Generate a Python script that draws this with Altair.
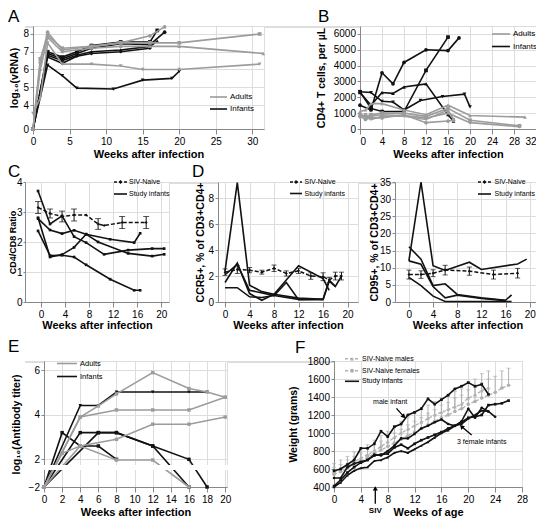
import altair as alt
import pandas as pd

FONT = "Liberation Sans"
GRAY = "#9c9c9c"
LIGHT = "#b0b0b0"
BLACK = "#121212"

# ===== Panel A: plasma viral RNA (weeks after infection, log10 copies) =====
A_ADULT_1 = ([0, 1, 2, 4, 8, 12, 16, 20, 31], [0, 6.6, 7.9, 7.2, 7.3, 7.5, 7.5, 7.5, 8.0])
A_ADULT_2 = ([0, 1, 2, 4, 8, 12, 16, 20, 31.5], [0, 6.0, 7.8, 7.0, 7.2, 7.3, 7.3, 7.3, 6.9])
A_ADULT_3 = ([0, 1, 2, 4, 8, 12, 15, 20, 31], [2.6, 4.4, 7.5, 6.3, 6.3, 6.2, 6.0, 6.0, 6.3])
A_ADULT_4 = ([0, 1, 2, 4, 8, 12, 16, 18], [0, 6.4, 8.1, 7.1, 7.3, 7.5, 7.9, 8.4])
A_INFANT_1 = ([0, 2, 4, 6, 8, 12, 16, 17], [0, 7.0, 6.7, 7.0, 7.35, 7.55, 7.55, 8.2])
A_INFANT_2 = ([0, 2, 4, 6, 8, 12, 16, 18], [0, 6.9, 6.6, 6.9, 7.2, 7.45, 7.4, 8.1])
A_INFANT_3 = ([0, 2, 4, 6, 8, 12, 16, 17], [0, 6.8, 6.5, 6.8, 7.0, 7.1, 7.3, 7.6])
A_INFANT_4 = ([0, 2, 4, 6, 8, 12, 16], [0, 6.7, 6.35, 6.75, 6.9, 7.0, 7.2])
A_INFANT_5 = ([0, 2, 4, 6, 11, 15, 19, 20], [0, 6.25, 5.65, 4.95, 4.9, 5.4, 5.5, 5.9])
A_X_TICKS = [0, 5, 10, 15, 20, 25, 30]
A_Y_TICKS = [0, 4, 5, 6, 7, 8]

# ===== Panel B: CD4+ T cells per uL =====
B_ADULT_1 = ([0, 1, 2, 4, 8, 12, 16, 20, 30], [1100, 1200, 1600, 1600, 1200, 900, 1500, 850, 750])
B_ADULT_2 = ([0, 1, 2, 4, 8, 12, 16, 20, 29], [900, 800, 900, 1000, 1000, 800, 1300, 550, 200])
B_ADULT_3 = ([0, 1, 2, 4, 8, 12, 16, 17], [800, 600, 700, 700, 900, 400, 500, 550])
B_ADULT_4 = ([0, 1, 2, 4, 8, 12, 16, 20, 29], [1000, 700, 800, 900, 850, 700, 1000, 400, 150])
B_ADULT_5 = ([0, 1, 2, 4, 8, 12, 16, 17], [700, 900, 600, 800, 800, 600, 1200, 600])
B_INFANT_1 = ([0, 2, 4, 8, 12, 16], [2350, 1300, 1100, 1100, 3700, 5800])
B_INFANT_2 = ([0, 2, 4, 6, 8, 12, 16, 18], [1500, 1200, 3550, 2850, 4200, 5000, 4950, 5750])
B_INFANT_3 = ([0, 2, 4, 6, 8, 12, 16, 17], [2300, 1500, 2300, 2250, 2650, 2850, 900, 500])
B_INFANT_4 = ([0, 2, 4, 6, 8, 11, 15, 19, 20], [2350, 2300, 1750, 1700, 1200, 1800, 2050, 2200, 1400])
B_X_TICKS = [0, 4, 8, 12, 16, 20, 24, 28, 32]
B_Y_TICKS = [0, 1000, 2000, 3000, 4000, 5000, 6000]

# ===== Panel C: CD4/CD8 ratio =====
C_NAIVE_W = [-0.5, 1.5, 3.5, 5.5, 7.5, 9.5, 10.5, 13.5, 17.5]
C_NAIVE_V = [3.15, 2.95, 2.85, 2.9, 2.9, 2.6, 2.55, 2.65, 2.65]
C_NAIVE_SD = [0.2, 0.15, 0.18, 0.2, 0, 0.18, 0, 0.2, 0.2]
C_INFANT_1 = ([-0.5, 1.5, 3.5, 5.5, 7.5, 10.5, 14.5, 18.5, 20.5], [3.7, 2.6, 2.87, 2.18, 1.98, 1.59, 1.73, 1.78, 1.78])
C_INFANT_2 = ([-0.5, 1.5, 3.5, 5.5, 7.5, 11.5, 15.5, 16.5], [2.78, 2.4, 2.28, 2.39, 2.26, 2.09, 1.98, 2.29])
C_INFANT_3 = ([-0.5, 1.5, 3.5, 5.5, 7.5, 9.5, 14.5, 18.5, 20.5], [2.81, 1.5, 1.58, 1.82, 2.26, 2.0, 1.62, 1.53, 1.59])
C_INFANT_4 = ([-0.5, 1.5, 3.5, 5.5, 7.5, 11.5, 15.5, 16.5], [2.37, 1.55, 1.56, 1.5, 1.24, 0.76, 0.39, 0.39])
C_X_TICKS = [0, 4, 8, 12, 16, 20]
C_Y_TICKS = [0, 1, 2, 3, 4]

# ===== Panel D (left): CCR5+ % =====
D1_NAIVE_W = [0, 2, 4, 6, 8, 10, 12, 14, 16, 17, 18, 19]
D1_NAIVE_V = [2.3, 2.5, 2.45, 2.3, 2.6, 2.2, 2.4, 2.0, 1.95, 1.7, 2.0, 2.0]
D1_NAIVE_SD = [0.25, 0.3, 0.2, 0.15, 0.25, 0.2, 0.2, 0.25, 0.3, 0.2, 0.3, 0.3]
D1_INFANT_1 = ([0, 2, 4, 6, 8, 12, 16], [2.4, 9.2, 1.3, 0.8, 0.6, 0.3, 0.2])
D1_INFANT_2 = ([0, 2, 4, 6, 8, 12, 16, 17], [1.5, 3.0, 0.65, 0.13, 0.6, 2.8, 1.8, 0.9])
D1_INFANT_3 = ([0, 2, 4, 8, 10, 12, 16, 17, 18], [2.1, 2.9, 0.9, 0.5, 1.5, 0.18, 0.2, 1.7, 1.2])
D1_INFANT_4 = ([0, 2, 4, 6, 8, 12, 16, 17, 18, 19], [1.1, 1.1, 0.4, 0.35, 0.5, 0.2, 0.2, 1.6, 1.2, 2.0])
D1_X_TICKS = [0, 4, 8, 12, 16, 20]
D1_Y_TICKS = [0, 2, 4, 6, 8]

# ===== Panel D (right): CD95+ % =====
D2_NAIVE_W = [0, 2, 4, 6, 10, 14, 18]
D2_NAIVE_V = [8.0, 8.0, 8.4, 9.3, 9.0, 8.0, 8.4]
D2_NAIVE_SD = [1.3, 1.1, 1.0, 1.4, 1.2, 1.3, 1.4]
D2_INFANT_1 = ([0, 2, 4, 6, 10, 12, 18, 19.5], [12.0, 35, 10.6, 9.2, 11.6, 9.5, 11.1, 12.5])
D2_INFANT_2 = ([0, 2, 4, 6, 8, 12, 16, 17], [16.1, 12.5, 4.8, 5.3, 2.2, 1.2, 0.5, 2.1])
D2_INFANT_3 = ([0, 2, 4, 6, 8, 12, 16], [12.0, 11.0, 4.5, 1.2, 2.0, 1.0, 0.4])
D2_INFANT_4 = ([0, 2, 4, 6, 10, 17], [7.2, 4.8, 1.7, 0.15, 0.15, 0.15])
D2_X_TICKS = [0, 4, 8, 12, 16, 20]
D2_Y_TICKS = [0, 5, 10, 15, 20, 25, 30, 35]

# ===== Panel E: log10 antibody titer =====
E_ADULT_1 = ([0, 2, 4, 6, 8, 12, 16, 18, 20], [-2, 2.3, 3.9, 4.4, 4.94, 5.9, 5.18, 5.03, 4.79])
E_ADULT_2 = ([0, 4, 8, 12, 16, 20], [-2, 3.9, 4.22, 4.22, 4.22, 4.79])
E_ADULT_3 = ([0, 4, 8, 12, 16, 20], [-2, 2.6, 2.9, 3.58, 3.58, 3.9])
E_ADULT_4 = ([0, 2, 4, 8, 12, 16], [-2, 2.27, 2.6, 1.97, 1.97, -2])
E_INFANT_1 = ([0, 4, 6, 8, 12, 16, 18], [-2, 4.42, 4.42, 5.03, 5.03, 5.03, 5.03])
E_INFANT_2 = ([0, 2, 4, 6, 8], [-2, 3.2, 2.6, 2.6, 2.0])
E_INFANT_3 = ([0, 4, 6, 8, 12, 16, 18], [-2, 3.2, 3.2, 3.2, 2.6, 2.0, -2])
E_INFANT_4 = ([0, 6, 8, 12, 16], [-2, 3.2, 3.2, 2.6, -2])
E_X_TICKS = [0, 2, 4, 6, 8, 10, 12, 14, 16, 18, 20]
E_Y_TICKS = [-2, -1, 2, 3, 4, 5, 6]
E_BREAK = [-0.75, 1.75]

# ===== Panel F: body weight (weeks of age, grams) =====
F_MALE_NAIVE_W = list(range(0, 24))
F_MALE_NAIVE_V = [560, 600, 640, 680, 720, 760, 800, 850, 900, 950, 1000, 1040,
                  1080, 1120, 1160, 1200, 1230, 1260, 1290, 1320, 1390, 1420, 1470, 1500]
F_MALE_NAIVE_SD = [100, 100, 100, 110, 110, 110, 120, 120, 120, 130, 130, 130,
                   140, 140, 150, 150, 160, 160, 170, 170, 180, 180, 190, 190]
F_FEMALE_NAIVE_W = list(range(0, 27))
F_FEMALE_NAIVE_V = [540, 570, 610, 650, 690, 730, 770, 810, 850, 890, 930, 970, 1010, 1050,
                    1090, 1130, 1170, 1200, 1240, 1270, 1320, 1350, 1390, 1420, 1450, 1500, 1530]
F_FEMALE_NAIVE_SD = [80, 80, 90, 90, 90, 100, 100, 100, 110, 110, 110, 120, 120, 120,
                     130, 130, 140, 140, 150, 150, 160, 160, 170, 180, 180, 190, 190]
F_MALE_INFANT = (list(range(0, 24)),
                 [580, 600, 650, 700, 830, 830, 880, 1020, 960, 1070, 1100, 1200,
                  1230, 1270, 1380, 1320, 1370, 1420, 1490, 1520, 1560, 1520, 1540, 1430])
F_FEMALE_INFANT_1 = (list(range(0, 25)),
                     [500, 500, 620, 660, 680, 700, 760, 750, 800, 860, 940, 940, 990,
                      1050, 1080, 1120, 1150, 1100, 1080, 1130, 1270, 1170, 1280, 1240, 1180])
F_FEMALE_INFANT_2 = (list(range(0, 27)),
                     [410, 480, 560, 620, 670, 700, 750, 760, 770, 840, 870, 830, 880, 920,
                      950, 980, 1010, 1050, 1080, 1120, 1170, 1180, 1200, 1310, 1320, 1330, 1360])
F_FEMALE_INFANT_3 = (list(range(0, 24)),
                     [400, 450, 530, 580, 610, 620, 690, 700, 730, 780, 800, 780,
                      820, 860, 900, 950, 1000, 1030, 1080, 1100, 1160, 1200, 1250, 1240])
F_X_TICKS = [0, 4, 8, 12, 16, 20, 24, 28]
F_Y_TICKS = [400, 600, 800, 1000, 1200, 1400, 1600, 1800]
F_NOTE_TEXT = ["male infant", "3 female infants", "SIV"]
F_NOTE_X = [8.2, 20.7, 6.15]
F_NOTE_Y = [1349, 905, 135]
F_ARROW_X = [9.3, 20.5, 6.15]
F_ARROW_Y = [1274, 978, 215]
F_ARROW_X2 = [10.4, 19.0, 6.15]
F_ARROW_Y2 = [1182, 1071, 385]
F_ARROW_ANGLE = [135, 315, 0]

DUMMY = pd.DataFrame({"k": [0]})


def frame(series):
    rows = []
    for name, shape, (xs, ys) in series:
        for x, y in zip(xs, ys):
            rows.append({"series": name, "shape": shape, "x": x, "y": y})
    return pd.DataFrame(rows)


def naive_frame(ws, vs, sds, upper_only=False):
    return pd.DataFrame({
        "x": ws, "y": vs,
        "lo": [v if upper_only else v - s for v, s in zip(vs, sds)],
        "hi": [v + s for v, s in zip(vs, sds)],
        "sd": sds,
    })


def encoders(xdom, ydom, yrange, xticks, yticks, xtitle, ytitle, xtp, ytp, ytick=3, ylp=1.5, ytfs=10.5,
             xflush=False):
    xs = alt.Scale(domain=xdom, nice=False, zero=False)
    if yrange is None:
        ys = alt.Scale(domain=ydom, nice=False, zero=False)
    else:
        ys = alt.Scale(domain=ydom, range=yrange, nice=False, zero=False)
    xa = alt.Axis(values=xticks, title=xtitle, titlePadding=xtp, labelFlush=xflush, labelOverlap=False, format="d")
    ya = alt.Axis(values=yticks, title=ytitle, titlePadding=ytp, tickSize=ytick, labelPadding=ylp,
                  titleFontSize=ytfs, labelFlush=False, labelOverlap=False, format="d")

    def X(f):
        return alt.X(f"{f}:Q", scale=xs, axis=xa)

    def Y(f):
        return alt.Y(f"{f}:Q", scale=ys, axis=ya)
    return X, Y


def traces(df, color, X, Y, width=1.6, dash=None, size=14, points=True):
    base = alt.Chart(df)
    kw = dict(color=color, strokeWidth=width)
    if dash:
        kw["strokeDash"] = dash
    out = [base.mark_line(**kw).encode(x=X("x"), y=Y("y"), detail="series:N")]
    if points:
        out.append(base.mark_point(filled=True, color=color, size=size, opacity=1)
                   .encode(x=X("x"), y=Y("y"), shape=alt.Shape("shape:N", scale=None)))
    return out


def naive_layers(df, color, X, Y, shape="diamond", size=14, cap=6, dash=(4, 2), width=1.5):
    base = alt.Chart(df)
    eb = base.transform_filter("datum.sd > 0")
    return [
        base.mark_line(color=color, strokeWidth=width, strokeDash=list(dash)).encode(x=X("x"), y=Y("y")),
        eb.mark_rule(color=color, strokeWidth=1).encode(x=X("x"), y=Y("lo"), y2="hi"),
        eb.mark_tick(color=color, orient="horizontal", size=cap, thickness=1).encode(x=X("x"), y=Y("hi")),
        eb.mark_tick(color=color, orient="horizontal", size=cap, thickness=1).encode(x=X("x"), y=Y("lo")),
        base.mark_point(shape=shape, filled=True, color=color, size=size, opacity=1).encode(x=X("x"), y=Y("y")),
    ]


def legend(x0, x1, tx, ys, items, fs):
    out = []
    for y, (label, color, dash, shape) in zip(ys, items):
        kw = dict(color=color, strokeWidth=1.6)
        if dash:
            kw["strokeDash"] = dash
        out.append(alt.Chart(DUMMY).mark_rule(**kw).encode(
            x=alt.value(x0), x2=alt.value(x1), y=alt.value(y)))
        if shape:
            out.append(alt.Chart(DUMMY).mark_point(shape=shape, filled=True, color=color, size=16, opacity=1)
                       .encode(x=alt.value((x0 + x1) / 2), y=alt.value(y)))
        out.append(alt.Chart(DUMMY).mark_text(text=label, align="left", baseline="middle", font=FONT,
                                              fontSize=fs, color="black")
                   .encode(x=alt.value(tx), y=alt.value(y)))
    return out


def letter(ch, dx, dy):
    return alt.Chart(DUMMY).mark_text(text=ch, align="left", baseline="top", font=FONT, fontSize=17,
                                      color="black").encode(x=alt.value(dx), y=alt.value(dy))


def extent(top, bottom):
    # invisible box that fixes a row's vertical extent for the concat layout
    return alt.Chart(DUMMY).mark_rect(color="white", opacity=0).encode(
        x=alt.value(0), x2=alt.value(1), y=alt.value(top), y2=alt.value(bottom))


# ---------------- Panel A ----------------
AW, AH = 231, 103
XA, YA = encoders([0, 31.6], [0, 4, 8.45], [AH, 79, 0], A_X_TICKS, A_Y_TICKS,
                  "Weeks after infection", "log₁₀(vRNA)", 2, 3.5)
dfA_ad = frame([("a1", "square", A_ADULT_1), ("a2", "triangle-up", A_ADULT_2),
                ("a3", "triangle-down", A_ADULT_3), ("a4", "circle", A_ADULT_4)])
dfA_in = frame([("i1", "square", A_INFANT_1), ("i2", "circle", A_INFANT_2), ("i3", "triangle-up", A_INFANT_3),
                ("i4", "diamond", A_INFANT_4), ("i5", "triangle-down", A_INFANT_5)])
panelA = alt.layer(
    extent(0, 135),
    *traces(dfA_in, BLACK, XA, YA), *traces(dfA_ad, GRAY, XA, YA),
    *legend(177, 194, 197, [71, 83], [("Adults", GRAY, None, None), ("Infants", BLACK, None, None)], 8),
    letter("A", -25, -17),
).properties(width=AW, height=AH)

# ---------------- Panel B ----------------
BW, BH = 176, 103
XB, YB = encoders([0, 32], [0, 6500], None, B_X_TICKS, B_Y_TICKS,
                  "Weeks after infection", "CD4+ T cells, per µL", 2, 7, xflush=True)
dfB_ad = frame([("a1", "triangle-up", B_ADULT_1), ("a2", "square", B_ADULT_2), ("a3", "circle", B_ADULT_3),
                ("a4", "diamond", B_ADULT_4), ("a5", "triangle-down", B_ADULT_5)])
dfB_in = frame([("i1", "square", B_INFANT_1), ("i2", "circle", B_INFANT_2),
                ("i3", "triangle-up", B_INFANT_3), ("i4", "triangle-down", B_INFANT_4)])
panelB = alt.layer(
    *traces(dfB_in, BLACK, XB, YB), *traces(dfB_ad, GRAY, XB, YB),
    *legend(132, 150, 153, [8, 20.5], [("Adults", GRAY, None, None), ("Infants", BLACK, None, None)], 8),
    letter("B", -42, -17),
).properties(width=BW, height=BH)

# ---------------- Panel C ----------------
CW, CH = 144, 120
XC, YC = encoders([-2.67, 21.3], [0, 4], None, C_X_TICKS, C_Y_TICKS,
                  "Weeks after infection", "CD4/CD8 Ratio", 0, -1.5, ytick=2, ylp=1, ytfs=9)
dfC_in = frame([("i1", "square", C_INFANT_1), ("i2", "square", C_INFANT_2),
                ("i3", "square", C_INFANT_3), ("i4", "square", C_INFANT_4)])
dfC_nv = naive_frame(C_NAIVE_W, C_NAIVE_V, C_NAIVE_SD)
panelC = alt.layer(
    extent(-18, 150),
    *traces(dfC_in, BLACK, XC, YC, size=7),
    *naive_layers(dfC_nv, BLACK, XC, YC, size=9),
    *legend(89, 102, 104, [0, 12], [("SIV-Naive", BLACK, [3, 2], "diamond"),
                                    ("Study infants", BLACK, None, None)], 7),
    letter("C", -17, -18),
).properties(width=CW, height=CH)

# ---------------- Panel D left ----------------
D1W, D1H = 140, 120
XD1, YD1 = encoders([-1.15, 21.7], [0, 9.25], None, D1_X_TICKS, D1_Y_TICKS,
                    "Weeks after infection", "CCR5+, % of CD3+CD4+", 0, 2.6)
dfD1_in = frame([("i1", "circle", D1_INFANT_1), ("i2", "circle", D1_INFANT_2),
                 ("i3", "circle", D1_INFANT_3), ("i4", "circle", D1_INFANT_4)])
dfD1_nv = naive_frame(D1_NAIVE_W, D1_NAIVE_V, D1_NAIVE_SD)
panelD1 = alt.layer(
    *traces(dfD1_in, BLACK, XD1, YD1, points=False),
    *naive_layers(dfD1_nv, BLACK, XD1, YD1, size=9, cap=5),
    *legend(72, 84, 86.5, [0, 11.5], [("SIV-Naive", BLACK, [3, 2], "diamond"),
                                      ("Study infants", BLACK, None, None)], 7),
    letter("D", -26, -18),
).properties(width=D1W, height=D1H)

# ---------------- Panel D right ----------------
D2W, D2H = 145, 120
XD2, YD2 = encoders([-2.3, 21.7], [0, 35], None, D2_X_TICKS, D2_Y_TICKS,
                    "Weeks after infection", "CD95+, % of CD3+CD4+", 0, 0)
dfD2_in = frame([("i1", "circle", D2_INFANT_1), ("i2", "circle", D2_INFANT_2),
                 ("i3", "circle", D2_INFANT_3), ("i4", "circle", D2_INFANT_4)])
dfD2_nv = naive_frame(D2_NAIVE_W, D2_NAIVE_V, D2_NAIVE_SD)
panelD2 = alt.layer(
    *traces(dfD2_in, BLACK, XD2, YD2, points=False),
    *naive_layers(dfD2_nv, BLACK, XD2, YD2, size=9, cap=5),
    *legend(83, 96, 99.5, [0, 12], [("SIV-Naive", BLACK, [3, 2], "diamond"),
                                    ("Study infants", BLACK, None, None)], 7),
).properties(width=D2W, height=D2H)

# ---------------- Panel E ----------------
EW, EH = 183, 126
XE, YE = encoders([0, 20.2], [-2, -0.75, 1.75, 6.42], [EH, 108.9, 103.9, 0], E_X_TICKS, E_Y_TICKS,
                  "Weeks after infection", "log₁₀(Antibody titer)", 2.5, 7)
dfE_ad = frame([("a1", "square", E_ADULT_1), ("a2", "square", E_ADULT_2),
                ("a3", "square", E_ADULT_3), ("a4", "square", E_ADULT_4)])
dfE_in = frame([("i1", "triangle-down", E_INFANT_1), ("i2", "square", E_INFANT_2),
                ("i3", "square", E_INFANT_3), ("i4", "square", E_INFANT_4)])
gap = alt.Chart(DUMMY).mark_rect(color="white").encode(
    x=alt.value(-5), x2=alt.value(EW + 4), y=alt.datum(E_BREAK[0]), y2=alt.datum(E_BREAK[1]))
panelE = alt.layer(
    extent(-27, 0),
    *traces(dfE_in, BLACK, XE, YE, size=12), *traces(dfE_ad, GRAY, XE, YE, size=12),
    gap,
    *legend(13, 33, 36, [2.5, 15.5], [("Adults", GRAY, None, None), ("Infants", BLACK, None, None)], 7.5),
    letter("E", -36, -22),
).properties(width=EW, height=EH)

# ---------------- Panel F ----------------
FW, FH = 188, 126
XF, YF = encoders([0, 28], [400, 1800], None, F_X_TICKS, F_Y_TICKS,
                  "Weeks of age", "Weight (grams)", 2.5, 9)
dfF_m = naive_frame(F_MALE_NAIVE_W, F_MALE_NAIVE_V, F_MALE_NAIVE_SD, upper_only=True)
dfF_f = naive_frame(F_FEMALE_NAIVE_W, F_FEMALE_NAIVE_V, F_FEMALE_NAIVE_SD, upper_only=True)
dfF_in = frame([("m", "square", F_MALE_INFANT), ("f1", "circle", F_FEMALE_INFANT_1),
                ("f2", "square", F_FEMALE_INFANT_2), ("f3", "triangle-up", F_FEMALE_INFANT_3)])
notes = pd.DataFrame({"text": F_NOTE_TEXT, "x": F_NOTE_X, "y": F_NOTE_Y})
arrows = pd.DataFrame({"x": F_ARROW_X, "y": F_ARROW_Y, "x2": F_ARROW_X2, "y2": F_ARROW_Y2,
                       "angle": F_ARROW_ANGLE})
note_layers = [
    alt.Chart(notes).transform_filter("datum.text != 'SIV'").mark_text(
        font=FONT, fontSize=7, color="black", align="left", baseline="middle", dx=-16
    ).encode(x=XF("x"), y=YF("y"), text="text:N"),
    alt.Chart(notes).transform_filter("datum.text == 'SIV'").mark_text(
        font=FONT, fontSize=8, fontWeight="bold", color="black", align="center", baseline="middle"
    ).encode(x=XF("x"), y=YF("y"), text="text:N"),
    alt.Chart(arrows).mark_rule(color="black", strokeWidth=1.3).encode(
        x=XF("x"), y=YF("y"), x2="x2", y2="y2"),
    alt.Chart(arrows).mark_point(shape="triangle-up", filled=True, color="black", size=26, opacity=1).encode(
        x=XF("x2"), y=YF("y2"), angle=alt.Angle("angle:Q", scale=None)),
]
panelF = alt.layer(
    *naive_layers(dfF_f, LIGHT, XF, YF, shape="circle", size=12, cap=4, dash=(3, 2), width=1.3),
    *naive_layers(dfF_m, LIGHT, XF, YF, shape="triangle-up", size=12, cap=4, dash=(3, 2), width=1.3),
    *traces(dfF_in, BLACK, XF, YF, size=7),
    *note_layers,
    *legend(11, 25, 28, [-2.3, 9.7, 20.3], [("SIV-Naive males", LIGHT, [3, 2], "triangle-up"),
                                            ("SIV-Naive females", LIGHT, [3, 2], "circle"),
                                            ("Study infants", BLACK, None, None)], 7),
    letter("F", -39, -21),
).properties(width=FW, height=FH)


def spacer(w):
    return alt.Chart(DUMMY).mark_text(text="").encode(x=alt.value(0), y=alt.value(0)).properties(width=w, height=1)


row1 = alt.hconcat(spacer(8), panelA, spacer(96), panelB, spacing=0, bounds="flush")
row2 = alt.hconcat(panelC, spacer(49), panelD1, spacer(37), panelD2, spacing=0, bounds="flush")
row3 = alt.hconcat(spacer(19), panelE, spacer(107), panelF, spacing=0, bounds="flush")

chart = alt.vconcat(row1, row2, row3, spacing=0, bounds="full").properties(
    autosize=alt.AutoSizeParams(type="none"),
    padding={"left": 17, "top": 18, "right": 511, "bottom": 493},
).configure_view(stroke=None).configure_axis(
    grid=False, domainColor="black", domainWidth=1.3, tickColor="black", tickWidth=1.1, tickSize=3,
    labelFont=FONT, labelFontSize=7, labelFontWeight="bold", labelColor="black", labelPadding=2,
    titleFont=FONT, titleFontSize=9.5, titleFontWeight="bold", titleColor="black",
).configure(background="white")

chart.save("out.html", embed_options={"renderer": "svg", "actions": False})
